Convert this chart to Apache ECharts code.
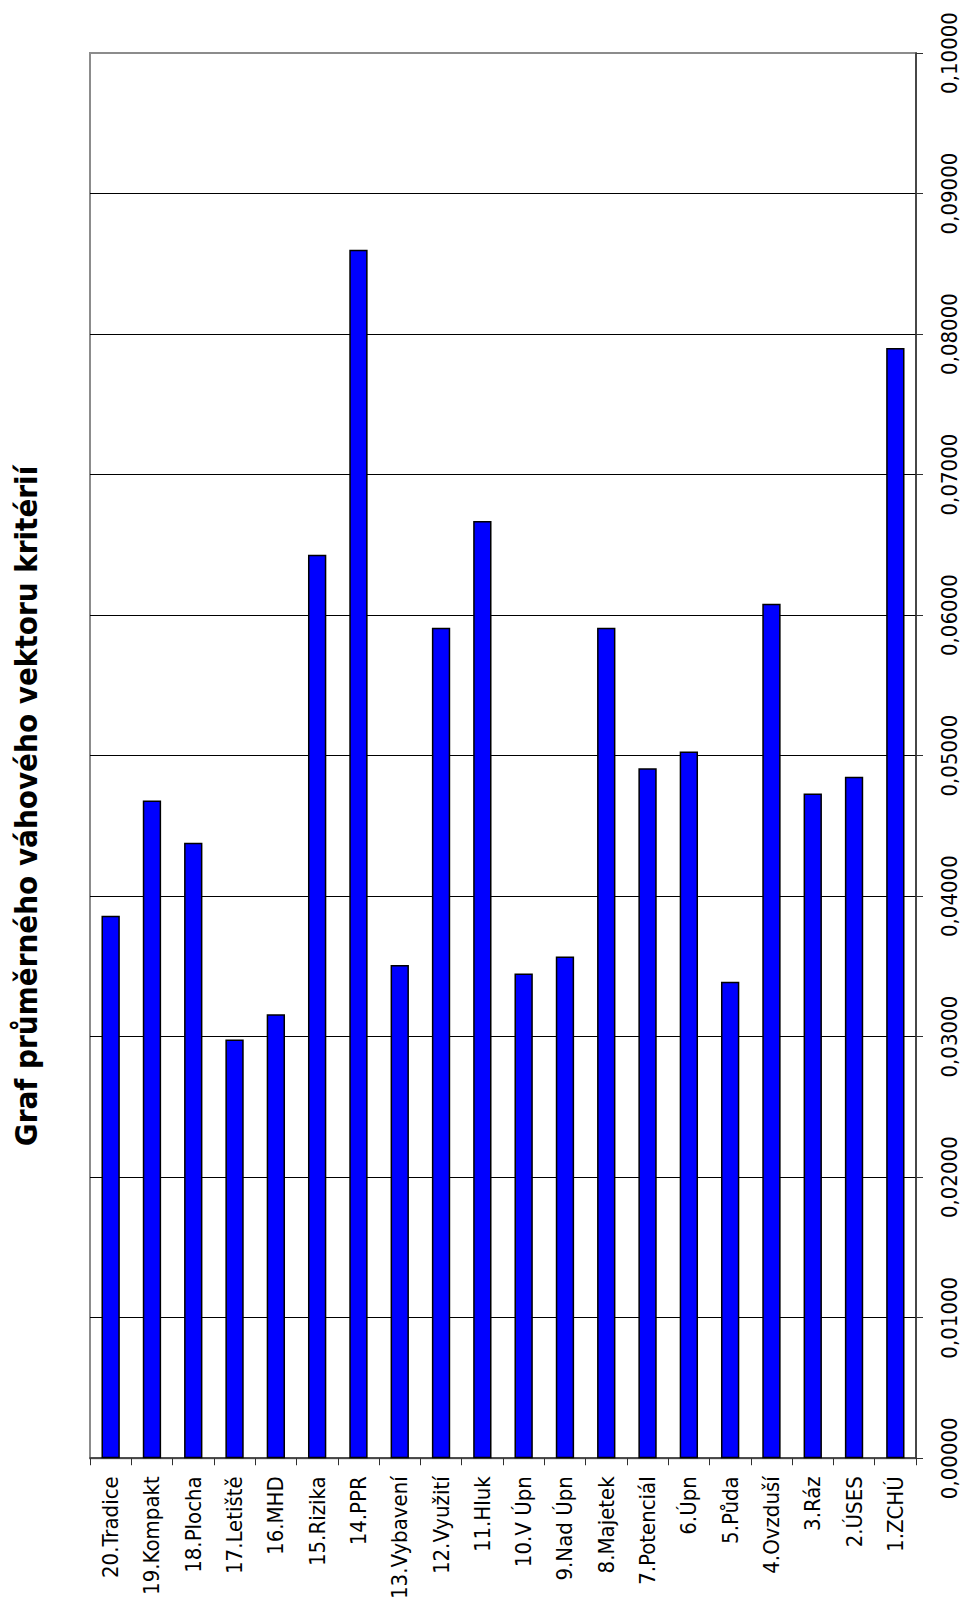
<!DOCTYPE html>
<html>
<head>
<meta charset="utf-8">
<script src="https://cdn.jsdelivr.net/npm/echarts@6/dist/echarts.min.js"></script>
<style>
  html, body { margin: 0; padding: 0; background: #fff; }
  #chart { width: 965px; height: 1602px; }
</style>
</head>
<body>
<div id="chart"></div>
<script>
// Criteria, left to right along the category axis
const categories = [
  '20.Tradice', '19.Kompakt', '18.Plocha', '17.Letiště', '16.MHD',
  '15.Rizika', '14.PPR', '13.Vybavení', '12.Využití', '11.Hluk',
  '10.V Úpn', '9.Nad Úpn', '8.Majetek', '7.Potenciál', '6.Úpn',
  '5.Půda', '4.Ovzduší', '3.Ráz', '2.ÚSES', '1.ZCHÚ'
];

// Average weight of each criterion
const weights = [
  0.0386, 0.0468, 0.0438, 0.0298, 0.0316,
  0.0643, 0.0860, 0.0351, 0.0591, 0.0667,
  0.0345, 0.0357, 0.0591, 0.0491, 0.0503,
  0.0339, 0.0608, 0.0473, 0.0485, 0.0790
];

// Value axis scale and its tick labels
const valueMin = 0;
const valueMax = 0.1;
const valueStep = 0.01;
const tickLabels = [
  '0,00000', '0,01000', '0,02000', '0,03000', '0,04000', '0,05000',
  '0,06000', '0,07000', '0,08000', '0,09000', '0,10000'
];

const titleText = 'Graf průměrného váhového vektoru kritérií';

const FONT = '"DejaVu Sans Condensed", "DejaVu Sans", sans-serif';

const chart = echarts.init(document.getElementById('chart'), null, { renderer: 'svg' });

chart.setOption({
  animation: false,
  backgroundColor: '#ffffff',
  grid: {
    left: 90,
    right: 49,
    top: 53,
    bottom: 141.5,
    show: true,
    borderColor: '#8c8c8c',
    borderWidth: 2,
    backgroundColor: '#ffffff'
  },
  graphic: [{
    type: 'text',
    x: 25.5,
    y: 806,
    rotation: Math.PI / 2,
    style: {
      text: titleText,
      fontFamily: FONT,
      fontWeight: 'bold',
      fontSize: 31,
      fill: '#000',
      textAlign: 'center',
      textVerticalAlign: 'middle'
    }
  }],
  xAxis: {
    type: 'category',
    data: categories,
    boundaryGap: true,
    axisLine: { show: true, lineStyle: { color: '#303030', width: 1.5 } },
    axisTick: { show: true, length: 7, alignWithLabel: false, lineStyle: { color: '#303030', width: 1 } },
    axisLabel: {
      rotate: 90,
      margin: 18,
      interval: 0,
      color: '#000',
      fontFamily: FONT,
      fontSize: 22
    },
    splitLine: { show: false }
  },
  yAxis: {
    type: 'value',
    position: 'right',
    min: valueMin,
    max: valueMax,
    interval: valueStep,
    axisLine: { show: true, lineStyle: { color: '#303030', width: 1.5 } },
    axisTick: { show: true, length: 7, lineStyle: { color: '#303030', width: 1 } },
    axisLabel: {
      rotate: 90,
      margin: 22,
      color: '#000',
      fontFamily: FONT,
      fontSize: 22,
      formatter: function (v) {
        return tickLabels[Math.round((v - valueMin) / valueStep)];
      }
    },
    splitLine: {
      show: true,
      showMinLine: false,
      showMaxLine: false,
      lineStyle: { color: '#000', width: 1 }
    }
  },
  series: [{
    type: 'bar',
    data: weights,
    barWidth: '44.4%',
    itemStyle: {
      color: '#0000ff',
      borderColor: '#000',
      borderWidth: 1.5
    }
  }]
});
</script>
</body>
</html>
